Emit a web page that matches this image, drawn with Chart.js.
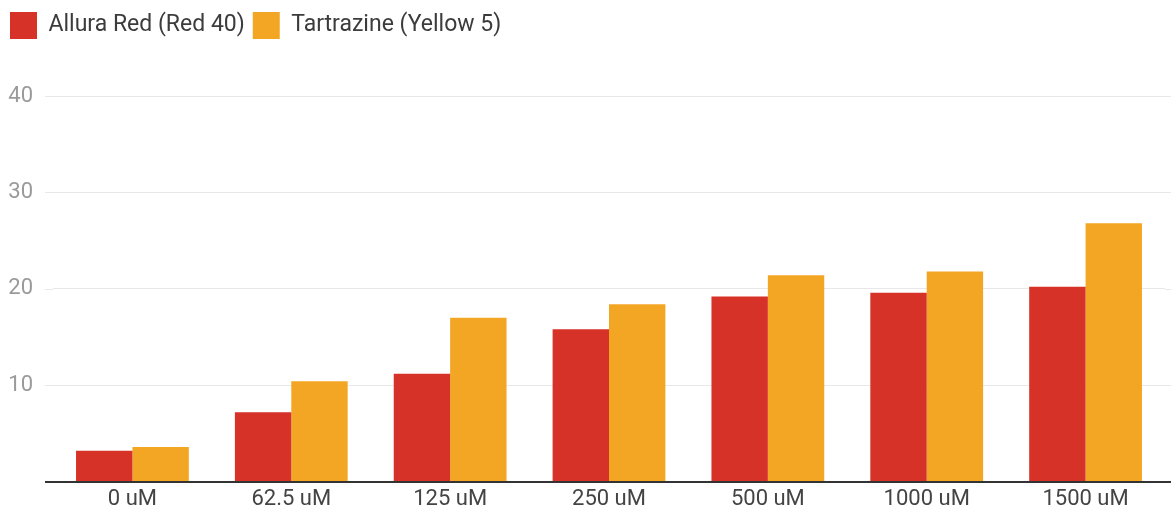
<!DOCTYPE html>
<html>
<head>
<meta charset="utf-8">
<script src="https://cdn.jsdelivr.net/npm/chart.js@4"></script>
<style>
html,body{margin:0;padding:0;background:#fff;}
#wrap{width:1171px;height:518px;position:relative;}
</style>
</head>
<body>
<div id="wrap"><canvas id="c" width="1171" height="518"></canvas></div>
<script>
const categories = ["0 uM","62.5 uM","125 uM","250 uM","500 uM","1000 uM","1500 uM"];
const alluraRed = [3.2, 7.2, 11.2, 15.8, 19.2, 19.6, 20.2];
const tartrazine = [3.6, 10.4, 17.0, 18.4, 21.4, 21.8, 26.8];
const yTicks = [0, 10, 20, 30, 40];

const legendGap = {
  id: 'legendGap',
  beforeInit(chart) {
    const origFit = chart.legend.fit;
    chart.legend.fit = function () {
      origFit.call(this);
      this.height += 47;
    };
  }
};

// extends the grid lines and baseline a little beyond the plot area, as in the reference
const gridExtend = {
  id: 'gridExtend',
  beforeDatasetsDraw(chart) {
    const {ctx, chartArea} = chart;
    const y = chart.scales.y;
    const xL = 45, xR = chart.width;
    ctx.save();
    yTicks.forEach(v => {
      const py = Math.round(y.getPixelForValue(v));
      if (v === 0) {
        ctx.strokeStyle = '#333'; ctx.lineWidth = 2;
      } else {
        ctx.strokeStyle = '#e8e8e8'; ctx.lineWidth = 1;
      }
      const off = v === 0 ? 0 : 0.5;
      ctx.beginPath();
      ctx.moveTo(xL, py + off); ctx.lineTo(chartArea.left, py + off);
      ctx.moveTo(chartArea.right, py + off); ctx.lineTo(xR, py + off);
      ctx.stroke();
    });
    ctx.restore();
  }
};

new Chart(document.getElementById('c'), {
  type: 'bar',
  data: {
    labels: categories,
    datasets: [
      {label: 'Allura Red (Red 40)', data: alluraRed, backgroundColor: '#D73228', borderWidth: 0, barPercentage: 1.0, categoryPercentage: 0.71},
      {label: 'Tartrazine (Yellow 5)', data: tartrazine, backgroundColor: '#F3A624', borderWidth: 0, barPercentage: 1.0, categoryPercentage: 0.71}
    ]
  },
  options: {
    responsive: false,
    animation: false,
    devicePixelRatio: 1,
    layout: {padding: {left: 2, right: 6, top: 4, bottom: 0}},
    plugins: {
      legend: {
        position: 'top',
        align: 'start',
        labels: {
          boxWidth: 27, boxHeight: 27, padding: 8,
          color: '#3c3c3c',
          font: {family: 'Roboto', size: 23}
        }
      },
      tooltip: {enabled: false}
    },
    scales: {
      x: {
        grid: {display: false, drawTicks: false},
        border: {display: true, color: '#333', width: 2},
        ticks: {color: '#444', font: {family: 'Roboto', size: 22}, padding: 5, maxRotation: 0}
      },
      y: {
        min: 0, max: 40,
        afterBuildTicks: (s) => { s.ticks = yTicks.map(v => ({value: v})); },
        afterFit: (s) => { s.width = 51; },
        grid: {color: (ctx) => ctx.tick && ctx.tick.value === 0 ? 'rgba(0,0,0,0)' : '#e8e8e8', drawTicks: false, lineWidth: 1},
        border: {display: false},
        ticks: {
          color: '#9a9a9a', font: {family: 'Roboto', size: 22}, padding: 20,
          callback: (v) => v === 0 ? '' : String(v)
        }
      }
    }
  },
  plugins: [legendGap, gridExtend]
});
</script>
</body>
</html>
